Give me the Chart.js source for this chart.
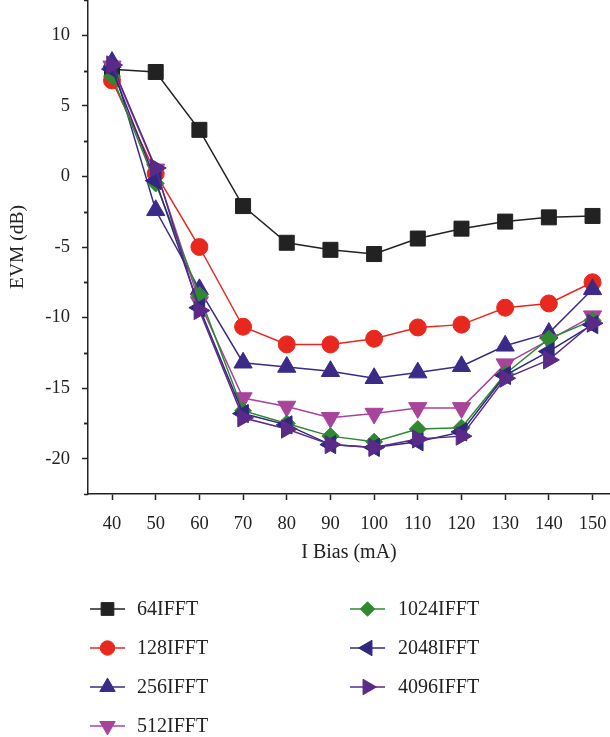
<!DOCTYPE html>
<html>
<head>
<meta charset="utf-8">
<script src="https://cdn.jsdelivr.net/npm/chart.js@4.4.1/dist/chart.umd.min.js"></script>
<style>
  html, body { margin: 0; padding: 0; background: #fff; }
  #wrap { width: 610px; height: 737px; }
</style>
</head>
<body>
<div id="wrap"><canvas id="myChart" width="610" height="737"></canvas></div>
<script>
// bias current (mA)
const biasValues = [40, 50, 60, 70, 80, 90, 100, 110, 120, 130, 140, 150];
const xTicks = [40, 50, 60, 70, 80, 90, 100, 110, 120, 130, 140, 150];
const yTicks = [-20, -15, -10, -5, 0, 5, 10];

// EVM (dB) per IFFT size
const evm64 = [7.6, 7.4, 3.3, -2.1, -4.7, -5.2, -5.5, -4.4, -3.7, -3.2, -2.9, -2.8];
const evm128 = [6.8, 0.2, -5.0, -10.65, -11.9, -11.9, -11.5, -10.7, -10.5, -9.3, -9.0, -7.5];
const evm256 = [8.1, -2.4, -8.0, -13.2, -13.5, -13.8, -14.3, -13.9, -13.45, -12.0, -11.1, -8.0];
const evm512 = [7.8, 0.5, -8.9, -15.7, -16.3, -17.1, -16.8, -16.4, -16.4, -13.3, -11.6, -9.9];
const evm1024 = [7.1, -0.5, -8.4, -16.6, -17.5, -18.4, -18.8, -17.9, -17.8, -14.0, -11.5, -10.2];
const evm2048 = [7.6, -0.3, -9.3, -16.8, -17.6, -19.0, -19.2, -18.8, -18.1, -14.1, -12.4, -10.5];
const evm4096 = [7.9, 0.6, -9.5, -17.1, -17.9, -19.0, -19.2, -18.6, -18.4, -14.3, -13.0, -10.4];

const seriesNames = ["64IFFT", "128IFFT", "256IFFT", "512IFFT", "1024IFFT", "2048IFFT", "4096IFFT"];
const seriesData = [evm64, evm128, evm256, evm512, evm1024, evm2048, evm4096];
const seriesColors = ["#222222", "#e8281e", "#3b2a88", "#a8449a", "#2e8a30", "#30287f", "#5a2a88"];
const seriesStyles = ["rect", "circle", "triangle", "triangle", "rectRot", "triangle", "triangle"];
const seriesRotation = [0, 0, 0, 180, 0, -90, 90];
const seriesRadius = [10.6, 8.5, 10.5, 10.5, 8.5, 10.5, 10.5];

const textColor = "#222";
const serif = "'Liberation Serif', 'DejaVu Serif', serif";

const datasets = seriesNames.map((name, i) => ({
    label: name,
    data: biasValues.map((x, j) => ({ x: x, y: seriesData[i][j] })),
    borderColor: seriesColors[i],
    backgroundColor: seriesColors[i],
    pointBackgroundColor: seriesColors[i],
    pointBorderColor: seriesColors[i],
    pointStyle: seriesStyles[i],
    rotation: seriesRotation[i],
    pointRadius: seriesRadius[i],
    pointHoverRadius: seriesRadius[i],
    pointBorderWidth: 1,
    borderWidth: 1.5,
    tension: 0,
    fill: false,
    clip: false,
    order: seriesNames.length - i // later series drawn on top
}));

// marker for the legend
function drawMarker(ctx, style, rotation, r, x, y, color) {
    ctx.save();
    ctx.fillStyle = color;
    ctx.strokeStyle = color;
    ctx.lineWidth = 1;
    ctx.translate(x, y);
    ctx.rotate(rotation * Math.PI / 180);
    ctx.beginPath();
    if (style === "rect") {
        const s = r * Math.SQRT1_2;
        ctx.rect(-s, -s, 2 * s, 2 * s);
    } else if (style === "circle") {
        ctx.arc(0, 0, r, 0, Math.PI * 2);
    } else if (style === "rectRot") {
        ctx.moveTo(0, -r); ctx.lineTo(r, 0); ctx.lineTo(0, r); ctx.lineTo(-r, 0);
        ctx.closePath();
    } else {
        for (let k = 0; k < 3; k++) {
            const a = k * 2 * Math.PI / 3;
            const px = Math.sin(a) * r, py = -Math.cos(a) * r;
            if (k === 0) ctx.moveTo(px, py); else ctx.lineTo(px, py);
        }
        ctx.closePath();
    }
    ctx.fill();
    ctx.stroke();
    ctx.restore();
}

const legendPlugin = {
    id: "sideLegend",
    afterDraw(chart) {
        const ctx = chart.ctx;
        const cols = [{ line: 90, text: 137 }, { line: 350, text: 398 }];
        const rowY = [609, 648, 687, 726];
        ctx.save();
        ctx.font = "20px " + serif;
        ctx.textBaseline = "middle";
        ctx.textAlign = "left";
        seriesNames.forEach((name, i) => {
            const col = i < 4 ? cols[0] : cols[1];
            const y = rowY[i < 4 ? i : i - 4];
            ctx.strokeStyle = seriesColors[i];
            ctx.lineWidth = 1.5;
            ctx.beginPath();
            ctx.moveTo(col.line, y);
            ctx.lineTo(col.line + 35, y);
            ctx.stroke();
            drawMarker(ctx, seriesStyles[i], seriesRotation[i], seriesRadius[i] * 0.85, col.line + 17.5, y, seriesColors[i]);
            ctx.fillStyle = textColor;
            ctx.fillText(name, col.text, y + 1);
        });
        ctx.restore();
    }
};

// minor ticks on the y axis
const minorTicks = {
    id: "minorTicks",
    afterDraw(chart) {
        const ys = chart.scales.y;
        const ctx = chart.ctx;
        ctx.save();
        ctx.strokeStyle = textColor;
        ctx.lineWidth = 1.5;
        for (let i = 0; i < yTicks.length; i++) {
            for (const d of [-2.5, 2.5]) {
                const v = yTicks[i] + d;
                if (v < ys.min || v > ys.max || yTicks.includes(v)) continue;
                const py = Math.round(ys.getPixelForValue(v)) + 0.5;
                ctx.beginPath();
                ctx.moveTo(ys.right - 4, py);
                ctx.lineTo(ys.right, py);
                ctx.stroke();
            }
        }
        ctx.restore();
    }
};

function noEdgePadding(s) {
    s.paddingTop = 0;
    s.paddingBottom = 0;
    s.paddingLeft = 0;
    s.paddingRight = 0;
}

new Chart(document.getElementById("myChart"), {
    type: "line",
    data: { datasets: datasets },
    plugins: [legendPlugin, minorTicks],
    options: {
        responsive: false,
        animation: false,
        layout: { autoPadding: false, padding: { top: 0, right: 0, left: 0, bottom: 170 } },
        plugins: { legend: { display: false }, tooltip: { enabled: false } },
        scales: {
            x: {
                type: "linear",
                min: 34.5,
                max: 154,
                afterFit: (s) => { s.height = 73; noEdgePadding(s); },
                afterBuildTicks: (s) => { s.ticks = xTicks.map(v => ({ value: v })); },
                ticks: { color: textColor, font: { family: serif, size: 18.5 }, padding: 13, maxRotation: 0, includeBounds: false },
                grid: { drawOnChartArea: false, drawTicks: true, tickLength: 6, tickWidth: 1.5, tickColor: textColor },
                border: { display: true, color: textColor, width: 1.5 },
                title: { display: true, text: "I Bias (mA)", color: textColor, font: { family: serif, size: 20 }, padding: { top: 0, bottom: 2 } }
            },
            y: {
                min: -22.5,
                max: 12.5,
                afterFit: (s) => { s.width = 88; noEdgePadding(s); },
                afterBuildTicks: (s) => { s.ticks = yTicks.map(v => ({ value: v })); },
                ticks: { color: textColor, font: { family: serif, size: 18.5 }, padding: 12, includeBounds: false },
                grid: { drawOnChartArea: false, drawTicks: true, tickLength: 6, tickWidth: 1.5, tickColor: textColor },
                border: { display: true, color: textColor, width: 1.5 },
                title: { display: true, text: "EVM (dB)", color: textColor, font: { family: serif, size: 19.5 }, padding: { top: 6, bottom: 0 } }
            }
        }
    }
});
</script>
</body>
</html>
